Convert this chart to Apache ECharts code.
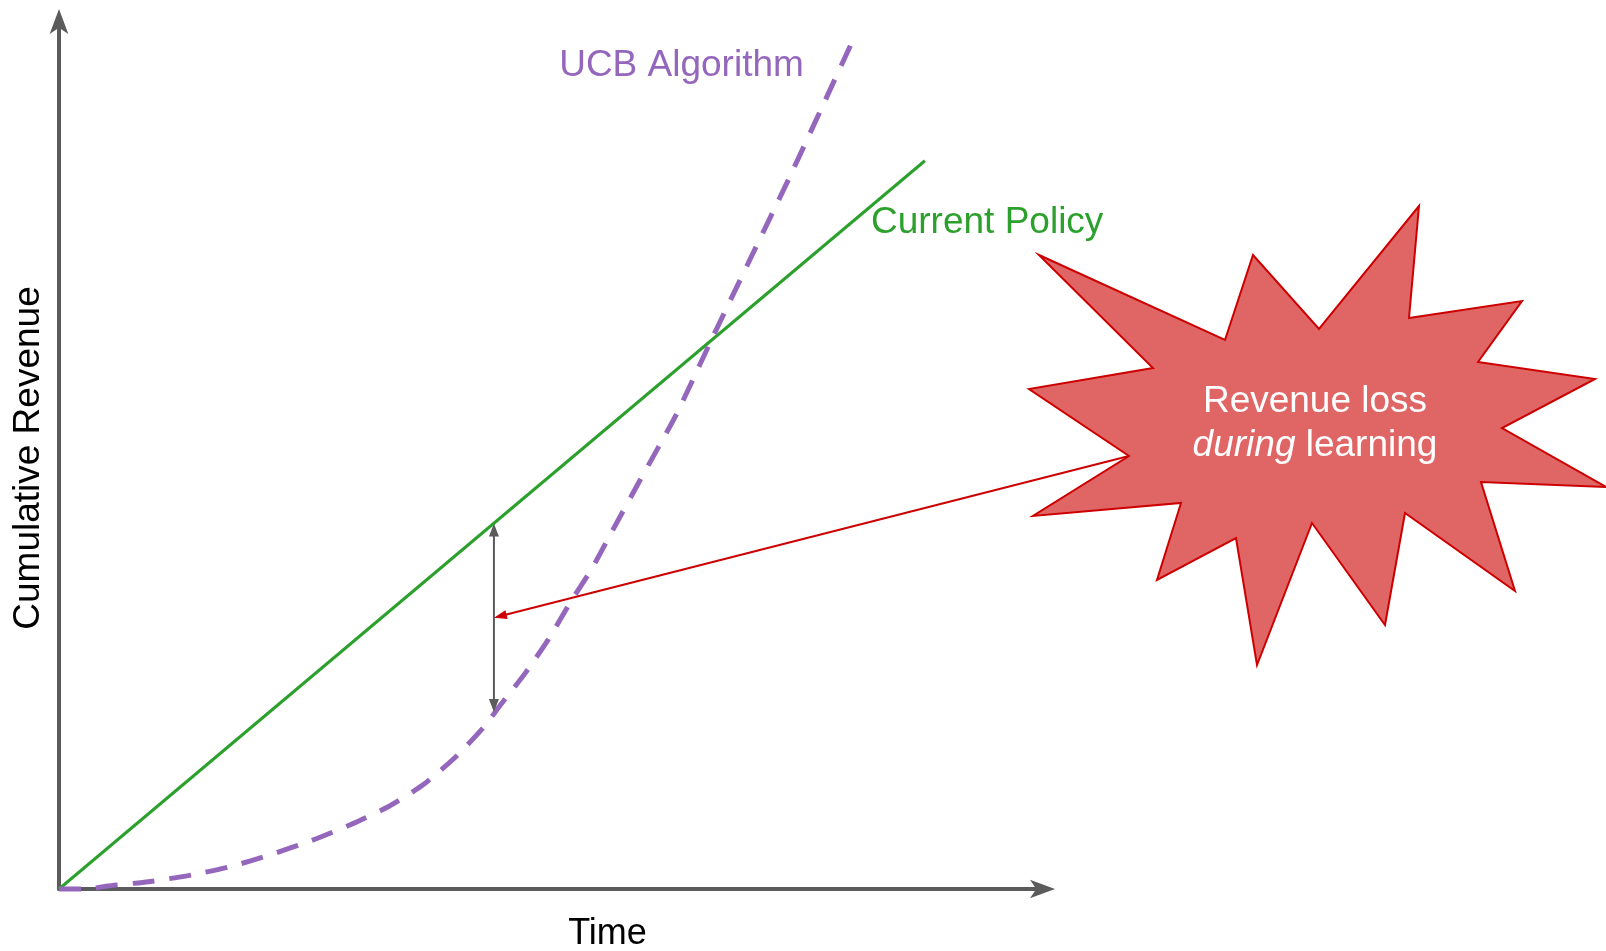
<!DOCTYPE html>
<html>
<head>
<meta charset="utf-8">
<script src="https://cdn.jsdelivr.net/npm/echarts@6/dist/echarts.min.js"></script>
<style>
  html, body { margin: 0; padding: 0; background: #fff; }
  #chart { width: 1606px; height: 951px; }
</style>
</head>
<body>
<div id="chart"></div>
<script>
// Cumulative revenue over time, in arbitrary units (0-100 on both axes)
const timeCurrent = [0, 88.0];
const revenueCurrent = [0, 83.9];

const timeUCB = [0, 2.9, 4.9, 9.1, 13.4, 17.5, 21.6, 25.7, 29.6, 33.5, 37.0, 40.3, 43.2,
                 44.8, 47.4, 49.7, 51.9, 54.2, 56.3, 59.0, 62.7, 66.4, 70.0, 74.2, 77.8, 80.6];
const revenueUCB = [0, 0, 0.35, 0.84, 1.6, 2.6, 4.0, 5.6, 7.4, 9.5, 12.0, 15.2, 18.7,
                    21.1, 24.9, 28.7, 32.9, 37.0, 41.4, 47.0, 54.6, 63.5, 72.0, 81.9, 90.7, 97.6];

// Revenue gap between the two policies at one moment during learning
const lossTime = 44.2;
const lossCurrent = 42.1;
const lossUCB = 20.4;

const seriesNames = ['Current Policy', 'UCB Algorithm'];
const axisNames = ['Time', 'Cumulative Revenue'];
const calloutText = ['Revenue loss', '{i|during} learning'];

const FONT = '"Liberation Sans", Arial, Helvetica, sans-serif';
const AXIS_COLOR = '#5b5b5b';
const GREEN = '#2ca02c';
const PURPLE = '#9467bd';
const RED = '#cc0000';

const zip = (xs, ys) => xs.map((x, i) => [x, ys[i]]);

const chart = echarts.init(document.getElementById('chart'), null, { renderer: 'canvas' });

function axisCommon() {
  return {
    type: 'value',
    min: 0,
    max: 100,
    axisLine: {
      onZero: false,
      symbol: ['none', 'arrow'],
      symbolSize: [14, 25],
      symbolOffset: [0, 12],
      lineStyle: { color: AXIS_COLOR, width: 4 }
    },
    axisTick: { show: false },
    axisLabel: { show: false },
    splitLine: { show: false }
  };
}

// Arrow head (filled triangle) with its tip at `tip`, pointing along (ux, uy)
function arrowHead(tip, ux, uy, length, halfWidth) {
  const bx = tip[0] - ux * length;
  const by = tip[1] - uy * length;
  return [
    [tip[0], tip[1]],
    [bx - uy * halfWidth, by + ux * halfWidth],
    [bx + uy * halfWidth, by - ux * halfWidth]
  ];
}

// Double-headed arrow spanning the revenue gap between the two curves
function renderGap(params, api) {
  const top = api.coord([api.value(0), api.value(1)]);
  const bottom = api.coord([api.value(0), api.value(2)]);
  const headL = 13, headW = 5;
  const style = { fill: AXIS_COLOR };
  return {
    type: 'group',
    children: [
      {
        type: 'line',
        shape: { x1: top[0], y1: top[1] + headL - 1, x2: bottom[0], y2: bottom[1] - headL + 1 },
        style: { stroke: AXIS_COLOR, lineWidth: 2 }
      },
      { type: 'polygon', shape: { points: arrowHead(top, 0, -1, headL, headW) }, style: style },
      { type: 'polygon', shape: { points: arrowHead(bottom, 0, 1, headL, headW) }, style: style }
    ]
  };
}

chart.setOption({
  animation: false,
  backgroundColor: '#ffffff',
  grid: {
    left: 59, right: 563, top: 21, bottom: 62,
    containLabel: false,
    outerBoundsMode: 'none'
  },
  xAxis: Object.assign(axisCommon(), {
    name: axisNames[0],
    nameLocation: 'middle',
    nameGap: 27,
    nameTextStyle: { fontSize: 36, color: '#000', fontFamily: FONT, padding: [0, 0, 0, 113] }
  }),
  yAxis: Object.assign(axisCommon(), {
    name: axisNames[1],
    nameLocation: 'middle',
    nameGap: 12,
    nameTextStyle: { fontSize: 37, color: '#000', fontFamily: FONT, padding: [0, 6, 0, 0] }
  }),
  series: [
    {
      name: seriesNames[0],
      type: 'line',
      data: zip(timeCurrent, revenueCurrent),
      showSymbol: false,
      clip: false,
      silent: true,
      lineStyle: { color: GREEN, width: 3 }
    },
    {
      name: seriesNames[1],
      type: 'line',
      data: zip(timeUCB, revenueUCB),
      smooth: 0.2,
      showSymbol: false,
      clip: false,
      silent: true,
      lineStyle: { color: PURPLE, width: 5, type: [22, 15], cap: 'butt', join: 'round' }
    },
    {
      name: 'gap',
      type: 'custom',
      silent: true,
      clip: false,
      z: 5,
      data: [[lossTime, lossCurrent, lossUCB]],
      renderItem: renderGap
    }
  ]
});

// Callout: starburst with an arrow pointing at the middle of the revenue gap
const burst = [
  [1039, 255], [1225, 340], [1253, 255], [1319, 329], [1419, 206], [1409, 318],
  [1522, 301], [1478, 362], [1595, 379], [1502, 428], [1606, 487], [1481, 482],
  [1515, 591], [1405, 513], [1385, 625], [1312, 523], [1257, 665], [1236, 538],
  [1157, 580], [1181, 503], [1033, 516], [1129, 456], [1029, 389], [1153, 368]
];
const arrowStart = [1129, 456];
const target = chart.convertToPixel({ gridIndex: 0 }, [lossTime, (lossCurrent + lossUCB) / 2]);
const dx = target[0] - arrowStart[0];
const dy = target[1] - arrowStart[1];
const len = Math.hypot(dx, dy);
const ux = dx / len, uy = dy / len;
const redHeadL = 13;
const head = arrowHead(target, ux, uy, redHeadL, 4.5);

chart.setOption({
  graphic: [
    {
      type: 'line', silent: true, z: 10,
      shape: {
        x1: arrowStart[0], y1: arrowStart[1],
        x2: target[0] - ux * (redHeadL - 1), y2: target[1] - uy * (redHeadL - 1)
      },
      style: { stroke: RED, lineWidth: 2 }
    },
    {
      type: 'polygon', silent: true, z: 10,
      shape: { points: head },
      style: { fill: RED }
    },
    {
      type: 'polygon', silent: true, z: 11,
      shape: { points: burst },
      style: { fill: '#e06666', stroke: RED, lineWidth: 2, lineJoin: 'miter' }
    },
    {
      type: 'text', silent: true, z: 12,
      style: {
        x: 1315, y: 401.5, text: calloutText[0],
        align: 'center', verticalAlign: 'middle',
        fill: '#ffffff', font: '37px ' + FONT
      }
    },
    {
      type: 'text', silent: true, z: 12,
      style: {
        x: 1315, y: 446, text: calloutText[1],
        align: 'center', verticalAlign: 'middle',
        fill: '#ffffff', font: '37px ' + FONT,
        rich: { i: { fontStyle: 'italic', fontSize: 37, fontFamily: FONT, fill: '#ffffff' } }
      }
    },
    {
      type: 'text', silent: true, z: 12,
      style: {
        x: 681.5, y: 65.4, text: seriesNames[1],
        align: 'center', verticalAlign: 'middle',
        fill: PURPLE, font: '37px ' + FONT
      }
    },
    {
      type: 'text', silent: true, z: 12,
      style: {
        x: 871, y: 222.4, text: seriesNames[0],
        align: 'left', verticalAlign: 'middle',
        fill: GREEN, font: '37px ' + FONT
      }
    }
  ]
});
</script>
</body>
</html>
